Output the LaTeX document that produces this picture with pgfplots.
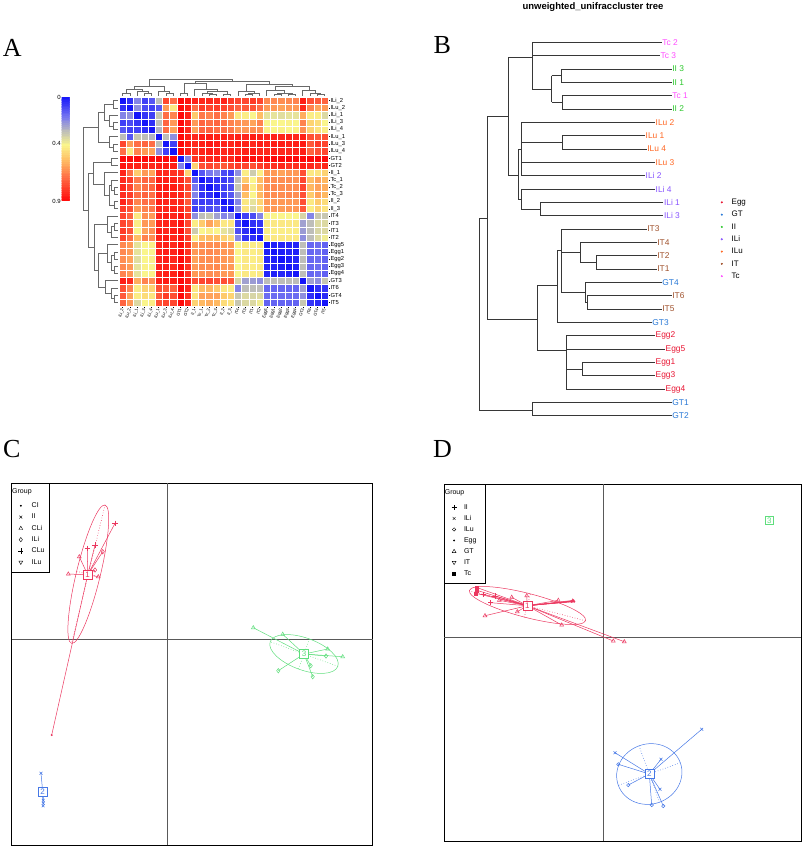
\documentclass[border=0pt]{standalone}
\usepackage{fontspec}
\setmainfont{Liberation Sans}
\newfontfamily\serifL{Liberation Serif}
\usepackage{pgfplots}
\usepackage{pgfplotstable}
\pgfplotsset{compat=1.18}

\definecolor{cEgg}{RGB}{232,20,50}
\definecolor{cGT}{RGB}{40,120,214}
\definecolor{cII}{RGB}{45,200,45}
\definecolor{cILi}{RGB}{136,85,255}
\definecolor{cILu}{RGB}{255,102,34}
\definecolor{cIT}{RGB}{160,82,45}
\definecolor{cTc}{RGB}{255,77,255}
\definecolor{gR}{RGB}{235,55,95}
\definecolor{gB}{RGB}{70,120,230}
\definecolor{gG}{RGB}{95,222,125}
\definecolor{dend}{RGB}{105,105,105}
\definecolor{treec}{RGB}{55,55,55}

% ---- Panel A: distance matrix (rows/cols in the same order) ----
\pgfplotstableread[header=false]{
0 0.05 0.2 0.08 0.12 0.3 0.78 0.7 0.9 0.88 0.85 0.84 0.84 0.83 0.85 0.8 0.78 0.78 0.8 0.78 0.65 0.65 0.64 0.65 0.66 0.86 0.76 0.74 0.72
0.05 0 0.22 0.1 0.08 0.12 0.62 0.45 0.9 0.86 0.7 0.8 0.78 0.8 0.78 0.76 0.72 0.74 0.75 0.7 0.62 0.62 0.6 0.62 0.62 0.84 0.66 0.6 0.62
0.2 0.22 0 0.06 0.08 0.32 0.7 0.66 0.9 0.85 0.52 0.68 0.66 0.7 0.66 0.62 0.45 0.44 0.42 0.55 0.38 0.38 0.37 0.38 0.38 0.58 0.44 0.44 0.36
0.08 0.1 0.06 0 0.05 0.3 0.72 0.62 0.9 0.84 0.62 0.72 0.7 0.72 0.7 0.66 0.64 0.62 0.6 0.66 0.42 0.42 0.42 0.43 0.42 0.66 0.5 0.48 0.42
0.12 0.08 0.08 0.05 0 0.28 0.7 0.6 0.9 0.84 0.6 0.72 0.72 0.7 0.7 0.68 0.62 0.62 0.64 0.64 0.43 0.42 0.43 0.42 0.43 0.64 0.5 0.46 0.44
0.3 0.12 0.32 0.3 0.28 0 0.3 0.22 0.9 0.86 0.84 0.86 0.86 0.85 0.86 0.84 0.85 0.84 0.86 0.85 0.84 0.85 0.84 0.85 0.84 0.86 0.76 0.74 0.76
0.78 0.62 0.7 0.72 0.7 0.3 0 0.08 0.9 0.86 0.84 0.86 0.87 0.86 0.85 0.84 0.86 0.85 0.84 0.86 0.85 0.86 0.86 0.85 0.86 0.87 0.74 0.8 0.78
0.7 0.45 0.66 0.62 0.6 0.22 0.08 0 0.9 0.86 0.82 0.85 0.86 0.85 0.84 0.85 0.84 0.85 0.86 0.84 0.84 0.85 0.84 0.84 0.85 0.86 0.72 0.76 0.78
0.9 0.9 0.9 0.9 0.9 0.9 0.9 0.9 0 0.2 0.82 0.84 0.84 0.85 0.84 0.84 0.88 0.88 0.89 0.88 0.89 0.9 0.9 0.9 0.9 0.9 0.9 0.9 0.9
0.88 0.86 0.85 0.84 0.84 0.86 0.86 0.86 0.2 0 0.5 0.76 0.78 0.76 0.74 0.78 0.8 0.78 0.76 0.8 0.82 0.82 0.84 0.82 0.82 0.86 0.84 0.82 0.84
0.85 0.7 0.52 0.62 0.6 0.84 0.84 0.82 0.82 0.5 0 0.12 0.18 0.2 0.1 0.08 0.22 0.44 0.33 0.44 0.62 0.62 0.6 0.62 0.62 0.76 0.45 0.46 0.5
0.84 0.8 0.68 0.72 0.72 0.86 0.86 0.85 0.84 0.76 0.12 0 0.05 0.06 0.07 0.1 0.3 0.52 0.42 0.55 0.64 0.64 0.64 0.64 0.63 0.78 0.55 0.6 0.56
0.84 0.78 0.66 0.7 0.72 0.86 0.87 0.86 0.84 0.78 0.18 0.05 0 0.05 0.08 0.1 0.32 0.6 0.44 0.56 0.64 0.65 0.64 0.64 0.64 0.78 0.56 0.6 0.58
0.83 0.8 0.7 0.72 0.7 0.85 0.86 0.85 0.85 0.76 0.2 0.06 0.05 0 0.08 0.12 0.25 0.55 0.42 0.56 0.64 0.64 0.64 0.65 0.64 0.76 0.52 0.6 0.56
0.85 0.78 0.66 0.7 0.7 0.86 0.85 0.84 0.84 0.74 0.1 0.07 0.08 0.08 0 0.05 0.2 0.45 0.38 0.5 0.62 0.62 0.62 0.62 0.62 0.76 0.45 0.52 0.48
0.8 0.76 0.62 0.66 0.68 0.84 0.84 0.85 0.84 0.78 0.08 0.1 0.1 0.12 0.05 0 0.22 0.46 0.36 0.48 0.62 0.62 0.61 0.62 0.62 0.74 0.44 0.5 0.46
0.78 0.72 0.45 0.64 0.62 0.85 0.86 0.84 0.88 0.8 0.22 0.3 0.32 0.25 0.2 0.22 0 0.08 0.1 0.2 0.42 0.42 0.42 0.42 0.42 0.35 0.2 0.32 0.32
0.78 0.74 0.44 0.62 0.62 0.84 0.85 0.85 0.88 0.78 0.44 0.52 0.6 0.55 0.45 0.46 0.08 0 0.05 0.06 0.45 0.45 0.45 0.45 0.45 0.25 0.3 0.36 0.36
0.8 0.75 0.42 0.6 0.64 0.86 0.84 0.86 0.89 0.76 0.33 0.42 0.44 0.42 0.38 0.36 0.1 0.05 0 0.05 0.44 0.44 0.44 0.44 0.44 0.24 0.3 0.35 0.36
0.78 0.7 0.55 0.66 0.64 0.85 0.86 0.84 0.88 0.8 0.44 0.55 0.56 0.56 0.5 0.48 0.2 0.06 0.05 0 0.45 0.45 0.45 0.45 0.45 0.22 0.3 0.36 0.4
0.65 0.62 0.38 0.42 0.43 0.84 0.85 0.84 0.89 0.82 0.62 0.64 0.64 0.64 0.62 0.62 0.42 0.45 0.44 0.45 0 0.02 0.03 0.03 0.03 0.3 0.15 0.16 0.14
0.65 0.62 0.38 0.42 0.42 0.85 0.86 0.85 0.9 0.82 0.62 0.64 0.65 0.64 0.62 0.62 0.42 0.45 0.44 0.45 0.02 0 0.02 0.03 0.02 0.3 0.15 0.16 0.14
0.64 0.6 0.37 0.42 0.43 0.84 0.86 0.84 0.9 0.84 0.6 0.64 0.64 0.64 0.62 0.61 0.42 0.45 0.44 0.45 0.03 0.02 0 0.02 0.03 0.3 0.15 0.16 0.14
0.65 0.62 0.38 0.43 0.42 0.85 0.85 0.84 0.9 0.82 0.62 0.64 0.64 0.65 0.62 0.62 0.42 0.45 0.44 0.45 0.03 0.03 0.02 0 0.02 0.3 0.15 0.16 0.14
0.66 0.62 0.38 0.42 0.43 0.84 0.86 0.85 0.9 0.82 0.62 0.63 0.64 0.64 0.62 0.62 0.42 0.45 0.44 0.45 0.03 0.02 0.03 0.02 0 0.3 0.15 0.16 0.14
0.86 0.84 0.58 0.66 0.64 0.86 0.87 0.86 0.9 0.86 0.76 0.78 0.78 0.76 0.76 0.74 0.35 0.25 0.24 0.22 0.3 0.3 0.3 0.3 0.3 0 0.25 0.22 0.32
0.76 0.66 0.44 0.5 0.5 0.76 0.74 0.72 0.9 0.84 0.45 0.55 0.56 0.52 0.45 0.44 0.2 0.3 0.3 0.3 0.15 0.15 0.15 0.15 0.15 0.25 0 0.05 0.06
0.74 0.6 0.44 0.48 0.46 0.74 0.8 0.76 0.9 0.82 0.46 0.6 0.6 0.6 0.52 0.5 0.32 0.36 0.35 0.36 0.16 0.16 0.16 0.16 0.16 0.22 0.05 0 0.04
0.72 0.62 0.36 0.42 0.44 0.76 0.78 0.78 0.9 0.84 0.5 0.56 0.58 0.56 0.48 0.46 0.32 0.36 0.36 0.4 0.14 0.14 0.14 0.14 0.14 0.32 0.06 0.04 0
}\matA

% dendrogram of panel A: h = height, p = leaf position (0 = top/left)
\pgfplotstableread{
h p
0 0
0.7 0
0.7 1
0 1
nan nan
0 3
0.7 3
0.7 4
0 4
nan nan
0 2
1.3 2
1.3 3.5
0.7 3.5
nan nan
0.7 0.5
2.0 0.5
2.0 2.75
1.3 2.75
nan nan
0 6
0.7 6
0.7 7
0 7
nan nan
0 5
1.3 5
1.3 6.5
0.7 6.5
nan nan
2.0 1.625
2.8 1.625
2.8 5.75
1.3 5.75
nan nan
0 8
0.9 8
0.9 9
0 9
nan nan
0 12
0.5 12
0.5 13
0 13
nan nan
0 11
0.9 11
0.9 12.5
0.5 12.5
nan nan
0 14
0.5 14
0.5 15
0 15
nan nan
0.9 11.75
1.3 11.75
1.3 14.5
0.5 14.5
nan nan
0 10
1.9 10
1.9 13.13
1.3 13.13
nan nan
0.9 8.5
3.6 8.5
3.6 11.56
1.9 11.56
nan nan
0 17
0.5 17
0.5 18
0 18
nan nan
0.5 17.5
0.9 17.5
0.9 19
0 19
nan nan
0 16
1.5 16
1.5 18.25
0.9 18.25
nan nan
0 21
0.5 21
0.5 22
0 22
nan nan
0 23
0.5 23
0.5 24
0 24
nan nan
0.5 21.5
0.9 21.5
0.9 23.5
0.5 23.5
nan nan
0 20
1.6 20
1.6 22.5
0.9 22.5
nan nan
0 27
0.5 27
0.5 28
0 28
nan nan
0 26
0.9 26
0.9 27.5
0.5 27.5
nan nan
0 25
1.8 25
1.8 26.75
0.9 26.75
nan nan
1.6 21.25
2.8 21.25
2.8 25.88
1.8 25.88
nan nan
1.5 17.13
3.4 17.13
3.4 23.56
2.8 23.56
nan nan
3.6 10.03
4.3 10.03
4.3 20.35
3.4 20.35
nan nan
2.8 3.69
5.0 3.69
5.0 15.19
4.3 15.19
}\dendA

% ---- Panel B: cluster tree (x = branch position, y = leaf row) ----
\pgfplotstableread{
x y
661.7 42.3
532.7 42.3
532.7 89
551.7 89
nan nan
532.7 55.7
660 55.7
nan nan
551.7 75.7
551.7 102.3
nan nan
671.7 69
561.7 69
561.7 82.3
671.7 82.3
nan nan
551.7 75.7
561.7 75.7
nan nan
671.7 95.7
562.3 95.7
562.3 109
671.7 109
nan nan
551.7 102.3
562.3 102.3
nan nan
532.7 57.3
508.3 57.3
508.3 175.7
518.3 175.7
nan nan
521.7 149
518.3 149
518.3 199
521.7 199
nan nan
655 122.3
521.7 122.3
521.7 175.7
645 175.7
nan nan
521.7 162.3
655 162.3
nan nan
645 135.7
562.3 135.7
562.3 149
646.7 149
nan nan
521.7 142.3
562.3 142.3
nan nan
655 189
521.7 189
521.7 209
540.7 209
nan nan
663.3 202.3
540.7 202.3
540.7 215.7
663.3 215.7
nan nan
508.3 116.7
487.3 116.7
487.3 319
537.3 319
nan nan
487.3 218.3
479 218.3
479 410
532.7 410
nan nan
671.7 402.3
532.7 402.3
532.7 415.7
671.7 415.7
nan nan
557.3 285.7
537.3 285.7
537.3 350.7
566 350.7
nan nan
561.7 250
557.3 250
557.3 322.3
651.7 322.3
nan nan
646.7 229
561.7 229
561.7 292.3
585 292.3
nan nan
561.7 252.3
580 252.3
nan nan
656.7 242.3
580 242.3
580 262.3
596.7 262.3
nan nan
656.7 255.7
596.7 255.7
596.7 269
656.7 269
nan nan
661.7 282.3
585 282.3
585 302.3
587.3 302.3
nan nan
671.7 295.7
587.3 295.7
587.3 309
661.7 309
nan nan
655 335.7
566 335.7
566 389
665 389
nan nan
566 349
665 349
nan nan
566 369
582.7 369
nan nan
655 362.3
582.7 362.3
582.7 375.7
655 375.7
}\treeB

% ---- Panel C: class scores ----
\pgfplotstableread{
x y m
-99.4 65.3 t
-88.4 82.6 t
-80.4 91 p
-72.7 94.3 p
-52.7 116 p
-65 87.6 d
-69.4 62.6 v
-72.7 69.3 d
-116 -95.7 c
}\cOne
\pgfplotstableread{
x y m
-126.7 -134 x
-124.4 -161 x
-124.4 -164 x
-124.6 -166.5 x
}\cTwo
\pgfplotstableread{
x y m
85.6 11.6 v
115 5 v
160 -9.7 v
158.3 -16.7 d
175 -17.4 v
143 -26.4 d
110.6 -31.4 d
145 -37.4 d
}\cThree

% ---- Panel D ----
\pgfplotstableread{
x y m
-127 50 s
-126.5 47 s
-127.5 44 s
-120 43 p
-112.6 34.6 p
-108.3 41.3 p
-91.6 40 v
-76.6 41.6 v
-118.3 21.6 v
-86 25.6 v
-41.6 12.3 v
-104 37 v
-45 37 t
10 -3.7 t
21 -4.4 t
-30.6 36.3 t
-30.6 36.3 c
-31.5 35.5 c
-29.8 37 c
-32 36 c
-29 35.8 c
}\dOne
\pgfplotstableread{
x y m
98.4 -92 x
11.7 -115.4 x
57.7 -122 x
56.7 -152 x
15 -127 o
25 -147.7 o
48.4 -167.7 o
60 -168.7 o
}\dTwo

\pgfplotsset{
  grpmarks/.style={scatter, only marks, point meta=explicit symbolic, line width=0.5pt,
    scatter/classes={
      t={mark=triangle, mark size=2.2pt},
      v={mark=triangle, mark size=2.2pt, mark options={rotate=180}},
      d={mark=diamond, mark size=2.2pt},
      p={mark=+, mark size=2.6pt},
      x={mark=x, mark size=2pt},
      o={mark=o, mark size=1.7pt},
      s={mark=square*, mark size=1.5pt},
      c={mark=*, mark size=0.7pt}}},
  pcaaxis/.style={scale only axis, xtick=\empty, ytick=\empty, clip=false,
    axis line style={line width=0.7pt},
    legend image code/.code={\path (0pt,-2pt) (11pt,2pt); \draw[##1] plot coordinates {(5.5pt,0pt)};},
    legend cell align=left},
}
\tikzset{lab/.style={anchor=west, inner sep=0.5pt, font=\fontsize{8.4}{9}\selectfont},
  boxlab/.style={fill=white, line width=0.6pt, font=\fontsize{8}{8}\selectfont, inner sep=0pt, minimum size=9pt}}

\begin{document}
\begin{tikzpicture}
\path[use as bounding box] (0pt,0pt) rectangle (805pt,-848pt);

% ================= Panel A =================
\begin{axis}[at={(119pt,-97pt)}, anchor=north west, scale only axis, width=209pt, height=209pt,
  xmin=-0.5, xmax=28.5, ymin=-0.5, ymax=28.5,
  axis line style={draw=none},
  xtick={0,...,28}, ytick={0,...,28},
  xtick pos=left, ytick pos=right, xticklabel pos=left, yticklabel pos=right,
  tick align=outside, major tick length=2pt, tick style={black, line width=0.4pt},
  xticklabels={ILi\_2,ILu\_2,ILi\_1,ILi\_3,ILi\_4,ILu\_1,ILu\_3,ILu\_4,GT1,GT2,II\_1,Tc\_1,Tc\_2,Tc\_3,II\_2,II\_3,IT4,IT3,IT1,IT2,Egg5,Egg1,Egg2,Egg3,Egg4,GT3,IT6,GT4,IT5},
  yticklabels={IT5,GT4,IT6,GT3,Egg4,Egg3,Egg2,Egg1,Egg5,IT2,IT1,IT3,IT4,II\_3,II\_2,Tc\_3,Tc\_2,Tc\_1,II\_1,GT2,GT1,ILu\_4,ILu\_3,ILu\_1,ILi\_4,ILi\_3,ILi\_1,ILu\_2,ILi\_2},
  xticklabel style={font=\fontsize{4.2}{4.5}\selectfont, rotate=75, anchor=east, inner sep=0.3pt},
  yticklabel style={font=\fontsize{5.8}{6}\selectfont, inner sep=0.3pt},
  colormap={hm}{rgb255(0)=(20,20,250) rgb255(18)=(120,120,240) rgb255(30)=(190,190,185) rgb255(42)=(250,245,140) rgb255(55)=(255,190,100) rgb255(70)=(255,110,70) rgb255(90)=(255,10,10)},
  point meta min=0, point meta max=0.9,
  colorbar sampled,
  colorbar style={at={(parent axis.north west)}, anchor=north east, xshift=-58pt,
    scale only axis, width=8pt, height=104pt, samples=60, y dir=reverse,
    ytick={0,0.4,0.9}, yticklabels={0,0.4,0.9}, yticklabel pos=left,
    major tick length=0pt, axis line style={draw=none},
    yticklabel style={font=\fontsize{6}{7}\selectfont, inner sep=0.5pt}},
]
\pgfplotsinvokeforeach{0,...,28}{
  \addplot[scatter, only marks, mark=square*, mark size=3.6pt, point meta=explicit,
    line width=0.15pt, scatter/use mapped color={draw=white, fill=mapped color}]
    table[x expr=#1, y expr=28-\coordindex, meta index=#1] {\matA};
}
\end{axis}

% left dendrogram
\begin{axis}[at={(83pt,-97pt)}, anchor=north west, scale only axis, width=35pt, height=209pt,
  xmin=0, xmax=5, x dir=reverse, ymin=-0.5, ymax=28.5, y dir=reverse, hide axis, clip=false]
\addplot[dend, line width=0.6pt, unbounded coords=jump] table[x=h, y=p] {\dendA};
\end{axis}
% top dendrogram
\begin{axis}[at={(119pt,-79pt)}, anchor=north west, scale only axis, width=209pt, height=17pt,
  xmin=-0.5, xmax=28.5, ymin=0, ymax=5, hide axis, clip=false]
\addplot[dend, line width=0.6pt, unbounded coords=jump] table[x=p, y=h] {\dendA};
\end{axis}

% ================= Panel B =================
\begin{axis}[at={(470pt,-30pt)}, anchor=north west, scale only axis, width=220pt, height=395pt,
  xmin=470, xmax=690, ymin=30, ymax=425, y dir=reverse, hide axis, clip=false,
  legend image code/.code={\path (0pt,-2pt) (6pt,2pt); \draw[#1] plot coordinates {(3pt,0pt)};},
  legend style={at={(axis cs:718.4,198)}, anchor=north west, draw=none, fill=none, inner sep=0pt,
    column sep=6.4pt, row sep=4pt, font=\fontsize{8}{9}\selectfont,
    nodes={inner sep=0.3pt, text height=6pt, text depth=1.7pt}},
  legend cell align=left]
\addplot[treec, line width=0.8pt, unbounded coords=jump, forget plot] table[x=x, y=y] {\treeB};
\addlegendimage{only marks, mark=*, mark size=0.8pt, cEgg}\addlegendentry{Egg}
\addlegendimage{only marks, mark=*, mark size=0.8pt, cGT}\addlegendentry{GT}
\addlegendimage{only marks, mark=*, mark size=0.8pt, cII}\addlegendentry{II}
\addlegendimage{only marks, mark=*, mark size=0.8pt, cILi}\addlegendentry{ILi}
\addlegendimage{only marks, mark=*, mark size=0.8pt, cILu}\addlegendentry{ILu}
\addlegendimage{only marks, mark=*, mark size=0.8pt, cIT}\addlegendentry{IT}
\addlegendimage{only marks, mark=*, mark size=0.8pt, cTc}\addlegendentry{Tc}
\node[lab, text=cTc] at (axis cs:661.7,42.3) {Tc 2};
\node[lab, text=cTc] at (axis cs:660,55.7) {Tc 3};
\node[lab, text=cII] at (axis cs:671.7,69) {II 3};
\node[lab, text=cII] at (axis cs:671.7,82.3) {II 1};
\node[lab, text=cTc] at (axis cs:671.7,95.7) {Tc 1};
\node[lab, text=cII] at (axis cs:671.7,109) {II 2};
\node[lab, text=cILu] at (axis cs:655,122.3) {ILu 2};
\node[lab, text=cILu] at (axis cs:645,135.7) {ILu 1};
\node[lab, text=cILu] at (axis cs:646.7,149) {ILu 4};
\node[lab, text=cILu] at (axis cs:655,162.3) {ILu 3};
\node[lab, text=cILi] at (axis cs:645,175.7) {ILi 2};
\node[lab, text=cILi] at (axis cs:655,189) {ILi 4};
\node[lab, text=cILi] at (axis cs:663.3,202.3) {ILi 1};
\node[lab, text=cILi] at (axis cs:663.3,215.7) {ILi 3};
\node[lab, text=cIT] at (axis cs:646.7,229) {IT3};
\node[lab, text=cIT] at (axis cs:656.7,242.3) {IT4};
\node[lab, text=cIT] at (axis cs:656.7,255.7) {IT2};
\node[lab, text=cIT] at (axis cs:656.7,269) {IT1};
\node[lab, text=cGT] at (axis cs:661.7,282.3) {GT4};
\node[lab, text=cIT] at (axis cs:671.7,295.7) {IT6};
\node[lab, text=cIT] at (axis cs:661.7,309) {IT5};
\node[lab, text=cGT] at (axis cs:651.7,322.3) {GT3};
\node[lab, text=cEgg] at (axis cs:655,335.7) {Egg2};
\node[lab, text=cEgg] at (axis cs:665,349) {Egg5};
\node[lab, text=cEgg] at (axis cs:655,362.3) {Egg1};
\node[lab, text=cEgg] at (axis cs:655,375.7) {Egg3};
\node[lab, text=cEgg] at (axis cs:665,389) {Egg4};
\node[lab, text=cGT] at (axis cs:671.7,402.3) {GT1};
\node[lab, text=cGT] at (axis cs:671.7,415.7) {GT2};
\end{axis}

% ================= Panel C =================
\begin{axis}[pcaaxis, at={(11.7pt,-483.3pt)}, anchor=north west, width=361pt, height=361.7pt,
  xmin=-156, xmax=205, ymin=-205.7, ymax=156,
  legend style={at={(axis description cs:0,1)}, anchor=north west, xshift=3.2pt, yshift=-18.7pt,
    draw=none, fill=none, inner sep=0pt, column sep=4.9pt, row sep=4.2pt,
    font=\fontsize{7}{8}\selectfont, nodes={inner sep=0.3pt, text height=5pt, text depth=1.5pt}}]
\addplot[black!65, line width=0.9pt, forget plot] coordinates {(0,-205.7) (0,156)};
\addplot[black!65, line width=0.9pt, forget plot] coordinates {(-156,0) (205,0)};
% group 1
\addplot[gR, line width=0.5pt, no markers, forget plot, quiver={u=\thisrow{x}+80, v=\thisrow{y}-64.5}] table[x expr=-80, y expr=64.5] {\cOne};
\addplot[gR, grpmarks, forget plot] table[x=x, y=y, meta=m] {\cOne};
\addplot[gR, dotted, line width=0.6pt, forget plot] coordinates {(-62.7,134.3) (-96.1,-4.1)};
\addplot[gR, dotted, line width=0.6pt, forget plot] coordinates {(-91.1,67.9) (-67.7,62.3)};
\draw[gR, line width=0.5pt, rotate around={76.4:(axis cs:-79.4,65.1)}] (axis cs:-79.4,65.1) ellipse [x radius=71.2, y radius=12];
% group 2
\addplot[gB, line width=0.5pt, no markers, forget plot, quiver={u=\thisrow{x}+125, v=\thisrow{y}+152.4}] table[x expr=-125, y expr=-152.4] {\cTwo};
\addplot[gB, grpmarks, forget plot] table[x=x, y=y, meta=m] {\cTwo};
% group 3
\addplot[gG, line width=0.5pt, no markers, forget plot, quiver={u=\thisrow{x}-136.3, v=\thisrow{y}+14.7}] table[x expr=136.3, y expr=-14.7] {\cThree};
\addplot[gG, grpmarks, forget plot] table[x=x, y=y, meta=m] {\cThree};
\addplot[gG, dotted, line width=0.6pt, forget plot] coordinates {(170.1,-27) (102.5,-2.4)};
\addplot[gG, dotted, line width=0.6pt, forget plot] coordinates {(141.8,0.3) (130.8,-29.7)};
\draw[gG, line width=0.5pt, rotate around={-20:(axis cs:136.3,-14.7)}] (axis cs:136.3,-14.7) ellipse [x radius=36, y radius=16];
\node[boxlab, draw=gR, text=gR] at (axis cs:-80,64.5) {1};
\node[boxlab, draw=gB, text=gB] at (axis cs:-125,-152.4) {2};
\node[boxlab, draw=gG, text=gG] at (axis cs:136.3,-14.7) {3};
\addlegendimage{only marks, mark=*, mark size=0.7pt, black}\addlegendentry{CI}
\addlegendimage{only marks, mark=x, mark size=2pt, black}\addlegendentry{II}
\addlegendimage{only marks, mark=triangle, mark size=2.2pt, black}\addlegendentry{CLi}
\addlegendimage{only marks, mark=diamond, mark size=2.2pt, black}\addlegendentry{ILi}
\addlegendimage{only marks, mark=+, mark size=2.6pt, black}\addlegendentry{CLu}
\addlegendimage{only marks, mark=triangle, mark size=2.2pt, mark options={rotate=180}, black}\addlegendentry{ILu}
\end{axis}
\draw[line width=0.7pt] (11.7pt,-483.3pt) rectangle (49.3pt,-572.7pt);
\node[anchor=west, inner sep=0pt, font=\fontsize{7}{8}\selectfont] at (12pt,-491.7pt) {Group};

% ================= Panel D =================
\begin{axis}[pcaaxis, at={(444.3pt,-484pt)}, anchor=north west, width=356.7pt, height=357pt,
  xmin=-159, xmax=197.7, ymin=-203.7, ymax=153.3,
  legend style={at={(axis description cs:0,1)}, anchor=north west, xshift=3.9pt, yshift=-19.7pt,
    draw=none, fill=none, inner sep=0pt, column sep=3.9pt, row sep=3.9pt,
    font=\fontsize{7}{8}\selectfont, nodes={inner sep=0.3pt, text height=5pt, text depth=1.5pt}}]
\addplot[black!65, line width=0.9pt, forget plot] coordinates {(0,-203.7) (0,153.3)};
\addplot[black!65, line width=0.9pt, forget plot] coordinates {(-159,0) (197.7,0)};
% group 1
\addplot[gR, line width=0.5pt, no markers, forget plot, quiver={u=\thisrow{x}+76, v=\thisrow{y}-31.6}] table[x expr=-76, y expr=31.6] {\dOne};
\addplot[gR, grpmarks, forget plot] table[x=x, y=y, meta=m] {\dOne};
\addplot[gR, dotted, line width=0.6pt, forget plot] coordinates {(-17.9,16.6) (-134.1,46.6)};
\addplot[gR, dotted, line width=0.6pt, forget plot] coordinates {(-73,43.2) (-79,20)};
\draw[gR, line width=0.5pt, rotate around={-14.5:(axis cs:-75.8,31.8)}] (axis cs:-75.8,31.8) ellipse [x radius=60, y radius=12];
% group 2
\addplot[gB, line width=0.5pt, no markers, forget plot, quiver={u=\thisrow{x}-46, v=\thisrow{y}+136.7}] table[x expr=46, y expr=-136.7] {\dTwo};
\addplot[gB, grpmarks, forget plot] table[x=x, y=y, meta=m] {\dTwo};
\addplot[gB, dotted, line width=0.6pt, forget plot] coordinates {(77,-125.4) (15,-148)};
\addplot[gB, dotted, line width=0.6pt, forget plot] coordinates {(35.7,-108.5) (56.3,-164.9)};
\draw[gB, line width=0.5pt, rotate around={20:(axis cs:46,-136.7)}] (axis cs:46,-136.7) ellipse [x radius=33, y radius=30];
\node[boxlab, draw=gR, text=gR] at (axis cs:-76,31.6) {1};
\node[boxlab, draw=gB, text=gB] at (axis cs:46,-136.7) {2};
\node[boxlab, draw=gG, text=gG, minimum size=8pt] at (axis cs:166,117) {3};
\addlegendimage{only marks, mark=+, mark size=2.6pt, black}\addlegendentry{II}
\addlegendimage{only marks, mark=x, mark size=2pt, black}\addlegendentry{ILi}
\addlegendimage{only marks, mark=o, mark size=1.7pt, black}\addlegendentry{ILu}
\addlegendimage{only marks, mark=*, mark size=0.7pt, black}\addlegendentry{Egg}
\addlegendimage{only marks, mark=triangle, mark size=2.2pt, black}\addlegendentry{GT}
\addlegendimage{only marks, mark=triangle, mark size=2.2pt, mark options={rotate=180}, black}\addlegendentry{IT}
\addlegendimage{only marks, mark=square*, mark size=1.5pt, black}\addlegendentry{Tc}
\end{axis}
\draw[line width=0.7pt] (444.3pt,-484pt) rectangle (485pt,-583.3pt);
\node[anchor=west, inner sep=0pt, font=\fontsize{7}{8}\selectfont] at (444.6pt,-492.7pt) {Group};

% titles and panel letters
\node[font=\bfseries\fontsize{9.5}{10}\selectfont, inner sep=0pt] at (593pt,-6.7pt) {unweighted\_unifraccluster tree};
\node[anchor=base west, inner sep=0pt, font=\serifL\fontsize{26}{26}\selectfont] at (2.7pt,-56.7pt) {A};
\node[anchor=base west, inner sep=0pt, font=\serifL\fontsize{26}{26}\selectfont] at (433.3pt,-53.3pt) {B};
\node[anchor=base west, inner sep=0pt, font=\serifL\fontsize{26}{26}\selectfont] at (3pt,-457pt) {C};
\node[anchor=base west, inner sep=0pt, font=\serifL\fontsize{26}{26}\selectfont] at (433pt,-457pt) {D};
\end{tikzpicture}
\end{document}
